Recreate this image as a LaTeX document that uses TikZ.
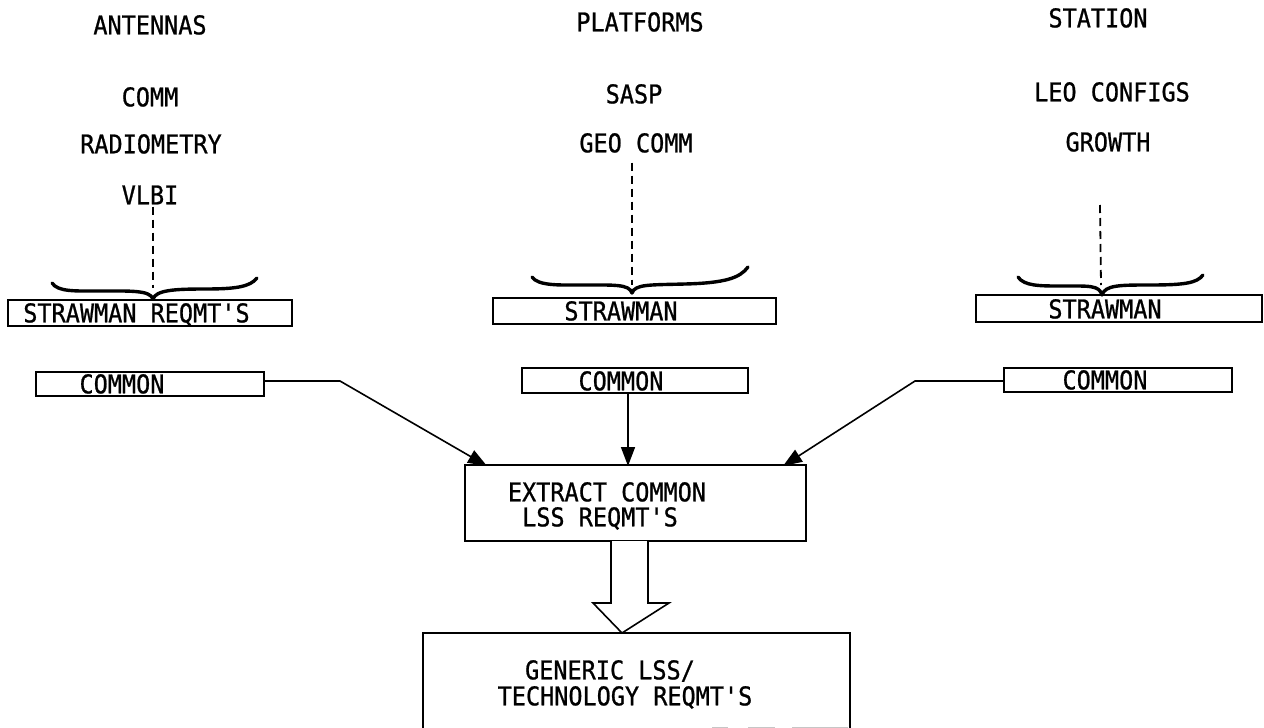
\documentclass[tikz,border=0pt]{standalone}
\usepackage{fontspec}
\newfontfamily\typefont[FakeBold=0.9]{DejaVu Sans Mono}
\usetikzlibrary{arrows.meta}

\tikzset{
  lbl/.style={font=\typefont\fontsize{23.5}{28}\selectfont, inner sep=0pt,
              text height=17pt, text depth=0pt, yscale=1.1},
  panel/.style={draw, line width=1.6pt, inner sep=0pt},
  conn/.style={line width=1.6pt},
  arr/.style={conn, -{Triangle[length=19pt,width=14pt]}},
  guide/.style={line width=1.8pt, dash pattern=on 8pt off 5pt},
  curl/.style={line width=3.4pt, line cap=round, line join=round},
}

\begin{document}
\begin{tikzpicture}[x=1pt,y=-1pt]
\useasboundingbox (0,0) rectangle (1264,728);

% ---- column headings and items ----
\node[lbl] (antennas) at (150,25) {ANTENNAS};
\node[lbl] (comm)     at (150,97) {COMM};
\node[lbl] (radio)    at (151,144) {RADIOMETRY};
\node[lbl] (vlbi)     at (150,195) {VLBI};

\node[lbl] (platforms) at (640,22) {PLATFORMS};
\node[lbl] (sasp)      at (634,94) {SASP};
\node[lbl] (geo)       at (636,143) {GEO COMM};

\node[lbl] (station) at (1098,18) {STATION};
\node[lbl] (leo)     at (1112,92) {LEO CONFIGS};
\node[lbl] (growth)  at (1108,142) {GROWTH};

% ---- braces gathering each column ----
\draw[curl] (52,283) .. controls (58,292) and (75,291) .. (100,291)
  .. controls (130,291) and (150,290) .. (153,299)
  .. controls (156,290) and (175,289) .. (205,289)
  .. controls (235,289) and (250,287) .. (257,278);
\coordinate (abr) at (153,288);

\draw[curl] (532,277) .. controls (538,286) and (560,285) .. (580,285)
  .. controls (615,285) and (629,284) .. (632,293)
  .. controls (635,284) and (650,285) .. (685,284)
  .. controls (725,283) and (740,278) .. (748,267);
\coordinate (pbr) at (632,285);

\draw[curl] (1018,277) .. controls (1024,286) and (1040,286) .. (1060,286)
  .. controls (1090,286) and (1099,285) .. (1102,295)
  .. controls (1105,285) and (1120,285) .. (1150,285)
  .. controls (1185,285) and (1197,283) .. (1203,275);
\coordinate (sbr) at (1101,285);
\coordinate (stop) at (1100,205);

% ---- dashed leaders ----
\draw[guide, shorten <=2pt] (vlbi.south -| abr) -- (abr);
\draw[guide, shorten <=10pt] (geo.south -| pbr) -- (pbr);
\draw[guide] (stop) -- (sbr);

% ---- strawman boxes ----
\node[panel, minimum width=284pt, minimum height=26pt] (astraw) at (150,313) {};
\node[lbl] at (136.5,313) {STRAWMAN REQMT'S};
\node[panel, minimum width=283pt, minimum height=26pt] (pstraw) at (634.5,311) {};
\node[lbl] at (621,311) {STRAWMAN};
\node[panel, minimum width=286pt, minimum height=27pt] (sstraw) at (1119,308.5) {};
\node[lbl] at (1105,309) {STRAWMAN};

% ---- common boxes ----
\node[panel, minimum width=228pt, minimum height=24pt] (acom) at (150,384) {};
\node[lbl] at (122,384) {COMMON};
\node[panel, minimum width=226pt, minimum height=25pt] (pcom) at (635,380.5) {};
\node[lbl] at (621,381) {COMMON};
\node[panel, minimum width=228pt, minimum height=24pt] (scom) at (1118,380) {};
\node[lbl] at (1105,380) {COMMON};

% ---- extraction box ----
\node[panel, minimum width=341pt, minimum height=76pt] (ext) at (635.5,503) {};
\node[lbl] at (607,492) {EXTRACT COMMON};
\node[lbl] at (600,517) {LSS REQMT'S};

% ---- arrows into the extraction box ----
\coordinate (lbend) at (340,381);
\coordinate (lin)   at (487,466);
\draw[arr] (acom.east |- lbend) -- (lbend) -- (lin);

\coordinate (min) at (628,466);
\draw[arr] (pcom.south -| min) -- (min);

\coordinate (rbend) at (915,381);
\coordinate (rin)   at (783,466);
\draw[arr] (scom.west |- rbend) -- (rbend) -- (rin);

% ---- generic requirements box (bottom edge runs off the sheet) ----
\node[minimum width=427pt, minimum height=95pt, inner sep=0pt] (gen) at (636.5,680.5) {};
\draw[conn] (gen.south west) -- (gen.north west) -- (gen.north east) -- (gen.south east);
\draw[gray!45, line width=1pt] (712,727) -- (728,727) (748,727) -- (775,727) (792,727) -- (848,727);
\node[lbl] at (610,670) {GENERIC LSS/};
\node[lbl] at (625,696) {TECHNOLOGY REQMT'S};

% ---- hollow block arrow ----
\draw[conn, fill=white, line join=miter]
  (611,541) -- (611,603) -- (593,603) -- (622,633) -- (669,603) -- (648,603) -- (648,541);
\end{tikzpicture}
\end{document}
